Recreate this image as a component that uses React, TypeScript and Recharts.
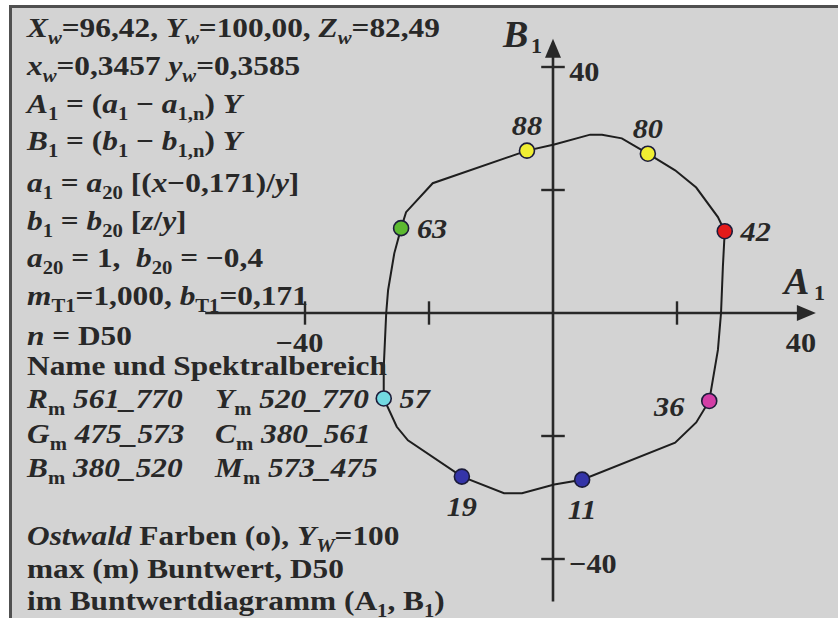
import React from "react";
import { ScatterChart, Scatter, XAxis, YAxis, ReferenceLine, ReferenceDot } from "recharts";

// Ostwald-Farben (max Buntwert), Lage im Buntwertdiagramm (A1, B1)
const pointNames = ["88", "80", "42", "36", "11", "19", "57", "63"];
const pointA = [-4.2, 15.3, 27.7, 25.2, 4.7, -14.7, -27.3, -24.5];
const pointB = [26.4, 25.9, 13.3, -14.3, -27.1, -26.6, -13.9, 13.8];
const pointColors = ["#f0ee32", "#f0ee32", "#e41a1a", "#d23ea6", "#3434a8", "#3434a8", "#72d9e2", "#5cb930"];

// Randkurve, im Uhrzeigersinn ab 88
const loopA = [-4.2, 0.2, 6.0, 7.9, 11.1, 15.3, 19.7, 23.1, 26.6, 27.7, 27.4, 27.1, 26.6, 25.2, 23.1, 19.7, 4.7, 0.2, -5.0, -7.9, -14.7, -23.4, -25.2, -27.3, -27.3, -26.9, -26.6, -25.6, -24.5, -23.7, -19.4];
const loopB = [26.4, 27.4, 29.0, 29.0, 28.4, 25.9, 23.2, 20.4, 15.6, 13.3, 7.5, 0, -6.0, -14.3, -17.8, -21.1, -27.1, -27.9, -29.3, -29.3, -26.6, -20.7, -18.5, -13.9, -8.8, 0, 3.7, 9.7, 13.8, 16.4, 21.1];

const ticksA = [-40, -20, 20];
const ticksB = [-40, -20, 20, 40];
const tickLabelsA = [-40, 40];
const tickLabelsB = [40, -40];

// where each point label sits
const labelSide: Record<string, string> = {
  "88": "top", "80": "top", "42": "right", "36": "left",
  "11": "bottom", "19": "bottom", "57": "right", "63": "right",
};

const W = 838;
const H = 621;
const OX = 553;
const OY = 313;
const KX = 6.2;
const KY = 6.15;
const SX = 1.12;
const INK = "#282828";
const FONT = "'Liberation Serif', 'Times New Roman', serif";

const pointData = pointNames.map((name, i) => ({ name, a: pointA[i], b: pointB[i], fill: pointColors[i] }));
const loopData = loopA.map((a, i) => ({ a, b: loopB[i] }));
loopData.push({ ...loopData[0] });

type Seg = [string, string];
const leftLines: { x: number; y: number; segs: Seg[] }[] = [
  { x: 27, y: 37, segs: [["X", "i"], ["w", "si"], ["=96,42, ", ""], ["Y", "i"], ["w", "si"], ["=100,00, ", ""], ["Z", "i"], ["w", "si"], ["=82,49", ""]] },
  { x: 27, y: 75, segs: [["x", "i"], ["w", "si"], ["=0,3457 ", ""], ["y", "i"], ["w", "si"], ["=0,3585", ""]] },
  { x: 27, y: 113, segs: [["A", "i"], ["1", "s"], [" = (", ""], ["a", "i"], ["1", "s"], [" \u2212 ", ""], ["a", "i"], ["1,n", "s"], [") ", ""], ["Y", "i"]] },
  { x: 27, y: 150, segs: [["B", "i"], ["1", "s"], [" = (", ""], ["b", "i"], ["1", "s"], [" \u2212 ", ""], ["b", "i"], ["1,n", "s"], [") ", ""], ["Y", "i"]] },
  { x: 27, y: 192, segs: [["a", "i"], ["1", "s"], [" = ", ""], ["a", "i"], ["20", "s"], [" [(", ""], ["x", "i"], ["\u22120,171)/", ""], ["y", "i"], ["]", ""]] },
  { x: 27, y: 230, segs: [["b", "i"], ["1", "s"], [" = ", ""], ["b", "i"], ["20", "s"], [" [", ""], ["z", "i"], ["/", ""], ["y", "i"], ["]", ""]] },
  { x: 27, y: 267, segs: [["a", "i"], ["20", "s"], [" = 1,  ", ""], ["b", "i"], ["20", "s"], [" = \u22120,4", ""]] },
  { x: 27, y: 305, segs: [["m", "i"], ["T1", "s"], ["=1,000, ", ""], ["b", "i"], ["T1", "s"], ["=0,171", ""]] },
  { x: 27, y: 345, segs: [["n", "i"], [" = D50", ""]] },
  { x: 27, y: 375, segs: [["Name und Spektralbereich", ""]] },
  { x: 27, y: 408, segs: [["R", "i"], ["m", "s"], [" 561_770", "i"]] },
  { x: 215, y: 408, segs: [["Y", "i"], ["m", "s"], [" 520_770", "i"]] },
  { x: 27, y: 443, segs: [["G", "i"], ["m", "s"], [" 475_573", "i"]] },
  { x: 215, y: 443, segs: [["C", "i"], ["m", "s"], [" 380_561", "i"]] },
  { x: 27, y: 477, segs: [["B", "i"], ["m", "s"], [" 380_520", "i"]] },
  { x: 215, y: 477, segs: [["M", "i"], ["m", "s"], [" 573_475", "i"]] },
  { x: 27, y: 545, segs: [["Ostwald", "i"], [" Farben (o), ", ""], ["Y", "i"], ["W", "si"], ["=100", ""]] },
  { x: 27, y: 578, segs: [["max (m) Buntwert, D50", ""]] },
  { x: 27, y: 610, segs: [["im Buntwertdiagramm (A", ""], ["1", "s"], [", B", ""], ["1", "s"], [")", ""]] },
];

function RichText({ x, y, segs, size = 28 }: { x: number; y: number; segs: Seg[]; size?: number }) {
  let shift = 0;
  return (
    <g transform={`translate(${x} ${y}) scale(${SX} 1)`}>
      <text x={0} y={0} fontSize={size} style={{ whiteSpace: "pre" }}>
        {segs.map(([t, st], i) => {
          const isSub = st.startsWith("s");
          const target = isSub ? size * 0.25 : 0;
          const dy = target - shift;
          shift = target;
          return (
            <tspan key={i} dy={dy} fontSize={isSub ? size * 0.66 : size} fontStyle={st.includes("i") ? "italic" : "normal"}>
              {t}
            </tspan>
          );
        })}
      </text>
    </g>
  );
}

function ColourDot(props: any) {
  const { cx, cy, payload } = props;
  const side = labelSide[payload.name];
  let lx = cx;
  let ly = cy;
  if (side === "top") ly = cy - 26;
  if (side === "bottom") ly = cy + 29;
  if (side === "right") lx = cx + 31;
  if (side === "left") { lx = cx - 40; ly = cy + 5; }
  return (
    <g>
      <circle cx={cx} cy={cy} r={7.5} fill={payload.fill} stroke="#1c1c3a" strokeWidth={1.6} />
      <text x={lx} y={ly + 10} textAnchor="middle" fontFamily={FONT} fontWeight="bold" fontStyle="italic" fontSize={28} fill={INK}
        transform={`translate(${lx} 0) scale(1.08 1) translate(${-lx} 0)`}>
        {payload.name}
      </text>
    </g>
  );
}

const arrowRight = (p: any) => (
  <polygon points={`${p.cx},${p.cy} ${p.cx - 19},${p.cy - 8} ${p.cx - 19},${p.cy + 8}`} fill={INK} />
);
const arrowUp = (p: any) => (
  <polygon points={`${p.cx},${p.cy} ${p.cx - 8},${p.cy + 19} ${p.cx + 8},${p.cy + 19}`} fill={INK} />
);

const labelA = (v: number) => (p: any) => (
  <text x={p.cx - (v < 0 ? 5 : 0)} y={p.cy + 39} textAnchor="middle" fontFamily={FONT} fontWeight="bold" fontSize={28} fill={INK}
    transform={`translate(${p.cx} 0) scale(1.08 1) translate(${-p.cx} 0)`}>
    {v < 0 ? `\u2212${-v}` : v}
  </text>
);
const labelB = (v: number) => (p: any) => (
  <text x={p.cx + 15} y={p.cy + 14} textAnchor="start" fontFamily={FONT} fontWeight="bold" fontSize={28} fill={INK}
    transform={`translate(${p.cx} 0) scale(1.08 1) translate(${-p.cx} 0)`}>
    {v < 0 ? `\u2212${-v}` : v}
  </text>
);

export default function App() {
  const xDomain = [-OX / KX, (W - OX) / KX];
  const yDomain = [-(H - OY) / KY, OY / KY];
  return (
    <div style={{ position: "absolute", left: 0, top: 0, width: W, height: H, background: "#fff", overflow: "hidden" }}>
      <div style={{ position: "absolute", left: 9, top: 5, width: W - 9, height: 613, background: "#d3d3d3", borderLeft: "3px solid #505050", borderTop: "3px solid #505050", boxSizing: "border-box" }} />
      <div style={{ position: "absolute", left: 0, top: 0 }}>
        <ScatterChart width={W} height={H} margin={{ top: 0, right: 0, bottom: 0, left: 0 }}>
          <XAxis type="number" dataKey="a" domain={xDomain} allowDataOverflow hide />
          <YAxis type="number" dataKey="b" domain={yDomain} allowDataOverflow hide />
          <ReferenceLine segment={[{ x: -56.1, y: 0 }, { x: 41, y: 0 }]} stroke={INK} strokeWidth={2.6} />
          <ReferenceLine segment={[{ x: 0, y: -46.9 }, { x: 0, y: 43 }]} stroke={INK} strokeWidth={2.6} />
          <ReferenceDot x={42.4} y={0} r={1} shape={arrowRight} />
          <ReferenceDot x={0} y={44.6} r={1} shape={arrowUp} />
          {ticksA.map((t) => (
            <ReferenceLine key={`ta${t}`} segment={[{ x: t, y: -1.9 }, { x: t, y: 1.9 }]} stroke={INK} strokeWidth={2.4} />
          ))}
          {ticksB.map((t) => (
            <ReferenceLine key={`tb${t}`} segment={[{ x: -1.9, y: t }, { x: 1.9, y: t }]} stroke={INK} strokeWidth={2.4} />
          ))}
          {tickLabelsA.map((v) => (
            <ReferenceDot key={`la${v}`} x={v} y={0} r={1} shape={labelA(v)} />
          ))}
          {tickLabelsB.map((v) => (
            <ReferenceDot key={`lb${v}`} x={0} y={v} r={1} shape={labelB(v)} />
          ))}
          <Scatter data={loopData} line={{ stroke: "#1e1e1e", strokeWidth: 2 }} shape={() => <g />} isAnimationActive={false} />
          <Scatter data={pointData} shape={ColourDot} isAnimationActive={false} />
        </ScatterChart>
      </div>
      <svg width={W} height={H} style={{ position: "absolute", left: 0, top: 0, pointerEvents: "none" }}>
        <g fontFamily={FONT} fontWeight="bold" fill={INK}>
          {leftLines.map((l, i) => (
            <RichText key={i} x={l.x} y={l.y} segs={l.segs} />
          ))}
        </g>
        <g fontFamily={FONT} fontWeight="bold" fontStyle="italic" fill={INK}>
          <text x={503} y={47} fontSize={38}>B</text>
          <text x={531} y={53} fontSize={22} fontStyle="normal">1</text>
          <text x={784} y={294} fontSize={38}>A</text>
          <text x={814} y={300} fontSize={22} fontStyle="normal">1</text>
        </g>
      </svg>
    </div>
  );
}
